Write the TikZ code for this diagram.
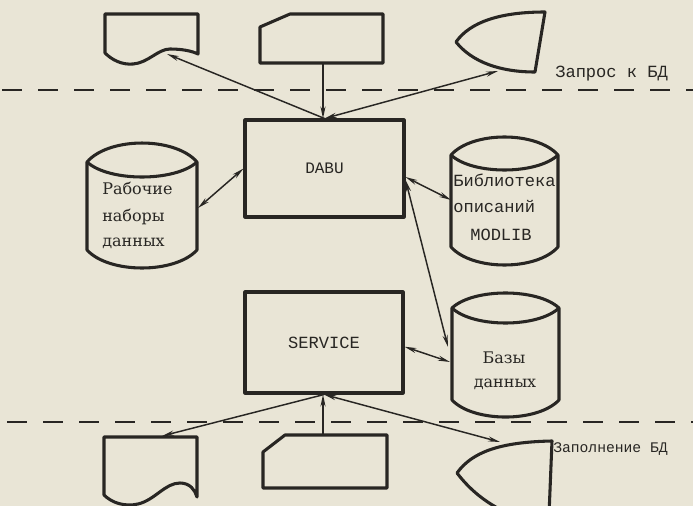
\documentclass[tikz,border=0pt]{standalone}
\usepackage{fontspec}
\setmainfont{DejaVu Serif}
\newfontfamily\tw{Liberation Mono}
\usetikzlibrary{arrows.meta}
\definecolor{paper}{RGB}{233,229,214}
\definecolor{ink}{RGB}{40,38,35}
\begin{document}
\begin{tikzpicture}[x=0.75pt,y=-0.75pt,
  shp/.style={draw=ink,line width=2.3pt,line join=round},
  box/.style={shp,rectangle,inner sep=0pt,text=ink},
  conn/.style={draw=ink,line width=1.1pt,-{Stealth[length=9pt,width=3.8pt]}},
  conn2/.style={draw=ink,line width=1.1pt,{Stealth[length=9pt,width=3.8pt]}-{Stealth[length=9pt,width=3.8pt]}},
  sep/.style={draw=ink,line width=1.5pt,dash pattern=on 15pt off 12pt},
  tt/.style={font=\tw\fontsize{12.8}{15}\selectfont,text=ink,inner sep=0pt},
  sr/.style={font=\fontsize{12}{15}\selectfont,text=ink,inner sep=0pt}]
\useasboundingbox (0,0) rectangle (693,506);
\fill[paper] (0,0) rectangle (693,506);
\clip (0,0) rectangle (693,506);

% separators
\draw[sep] (2,90) -- (693,90);
\draw[sep] (7,422) -- (693,422);
\node[tt,anchor=base west] (zapros) at (555,78) {Запрос к БД};
\node[tt,font=\tw\fontsize{11}{13}\selectfont,anchor=base west] (zapoln) at (553,452) {Заполнение БД};

% top row shapes
\draw[shp] (105,53) -- (105,14) -- (198,14) -- (198,54)
  .. controls (192,51) and (182,49) .. (170,49)
  .. controls (158,49) and (148,63) .. (133,64)
  .. controls (122,65) and (112,60) .. (105,53) -- cycle;
\coordinate (docT) at (167,54);
\draw[shp] (290,14) -- (383,14) -- (383,63) -- (260,63) -- (260,27) -- cycle;
\coordinate (cardT) at (323,63);
\draw[shp] (456,42) .. controls (470,22) and (500,12) .. (545,12) -- (535,72)
  .. controls (500,72) and (472,62) .. (456,42) -- cycle;
\coordinate (dispT) at (498,71);

% boxes
\node[box,minimum width=119.25pt,minimum height=72.75pt,font=\tw\fontsize{12}{14}\selectfont] (dabu) at (324.5,168.5) {DABU};
\node[box,minimum width=118.5pt,minimum height=75.75pt,font=\tw\fontsize{12.8}{15}\selectfont] (service) at (324,342.5) {SERVICE};

% cylinder: working data sets
\draw[shp] (87,162) .. controls (109,136.7) and (175,136.7) .. (197,162) -- (197,250)
  .. controls (175,274) and (109,274) .. (87,250) -- cycle;
\draw[shp] (87,162) .. controls (109,182) and (175,182) .. (197,162);
\coordinate (rab) at (198,208);
\node[sr,anchor=base west] (r1) at (102,195) {Рабочие};
\node[sr,anchor=base west] (r2) at (102,222) {наборы};
\node[sr,anchor=base west] (r3) at (102,247) {данных};

% cylinder: library
\draw[shp] (451,155) .. controls (472.4,131) and (536.6,131) .. (558,155) -- (558,247)
  .. controls (536.6,271) and (472.4,271) .. (451,247) -- cycle;
\draw[shp] (451,155) .. controls (472.4,175) and (536.6,175) .. (558,155);
\coordinate (lib) at (451,200);
\node[tt,anchor=base west] (l1) at (453,187) {Библиотека};
\node[tt,anchor=base west] (l2) at (453,213) {описаний};
\node[tt,anchor=base west] (l3) at (470,241) {MODLIB};

% cylinder: databases
\draw[shp] (452,308) .. controls (473.4,288) and (537.6,288) .. (559,308) -- (559,400)
  .. controls (537.6,422.7) and (473.4,422.7) .. (452,400) -- cycle;
\draw[shp] (452,308) .. controls (473.4,328) and (537.6,328) .. (559,308);
\coordinate (baz1) at (448,347);
\coordinate (baz2) at (450,362);
\node[sr,anchor=base] (b1) at (504,363) {Базы};
\node[sr,anchor=base] (b2) at (505,387) {данных};

% bottom row shapes
\draw[shp] (104,495) -- (104,437) -- (197,437) -- (197,497)
  .. controls (195,490) and (190,483) .. (180,483)
  .. controls (165,483) and (155,500) .. (138,504)
  .. controls (125,507) and (112,503) .. (104,495) -- cycle;
\coordinate (docB) at (162,436);
\draw[shp] (285,435) -- (387,435) -- (387,488) -- (263,488) -- (263,452) -- cycle;
\coordinate (cardB) at (323,435);
\draw[shp] (505,512) .. controls (485,502) and (470,490) .. (457,473)
  .. controls (472,452) and (500,442) .. (552,441) -- (549,515);
\coordinate (dispB) at (500,442);

% connectors
\draw[conn] (cardT) -- (cardT |- dabu.north);
\draw[conn] (dabu.north) -- (docT);
\draw[conn2] (dabu.north) -- (dispT);
\draw[conn2] (dabu.west) -- (rab);
\draw[conn2] (dabu.-6) -- (lib);
\draw[conn2] (dabu.-8) -- (baz1);
\draw[conn2] (service.-3) -- (baz2);
\draw[conn] (service.south) -- (docB);
\draw[conn] (cardB) -- (cardB |- service.south);
\draw[conn2] (service.south) -- (dispB);
\end{tikzpicture}
\end{document}
